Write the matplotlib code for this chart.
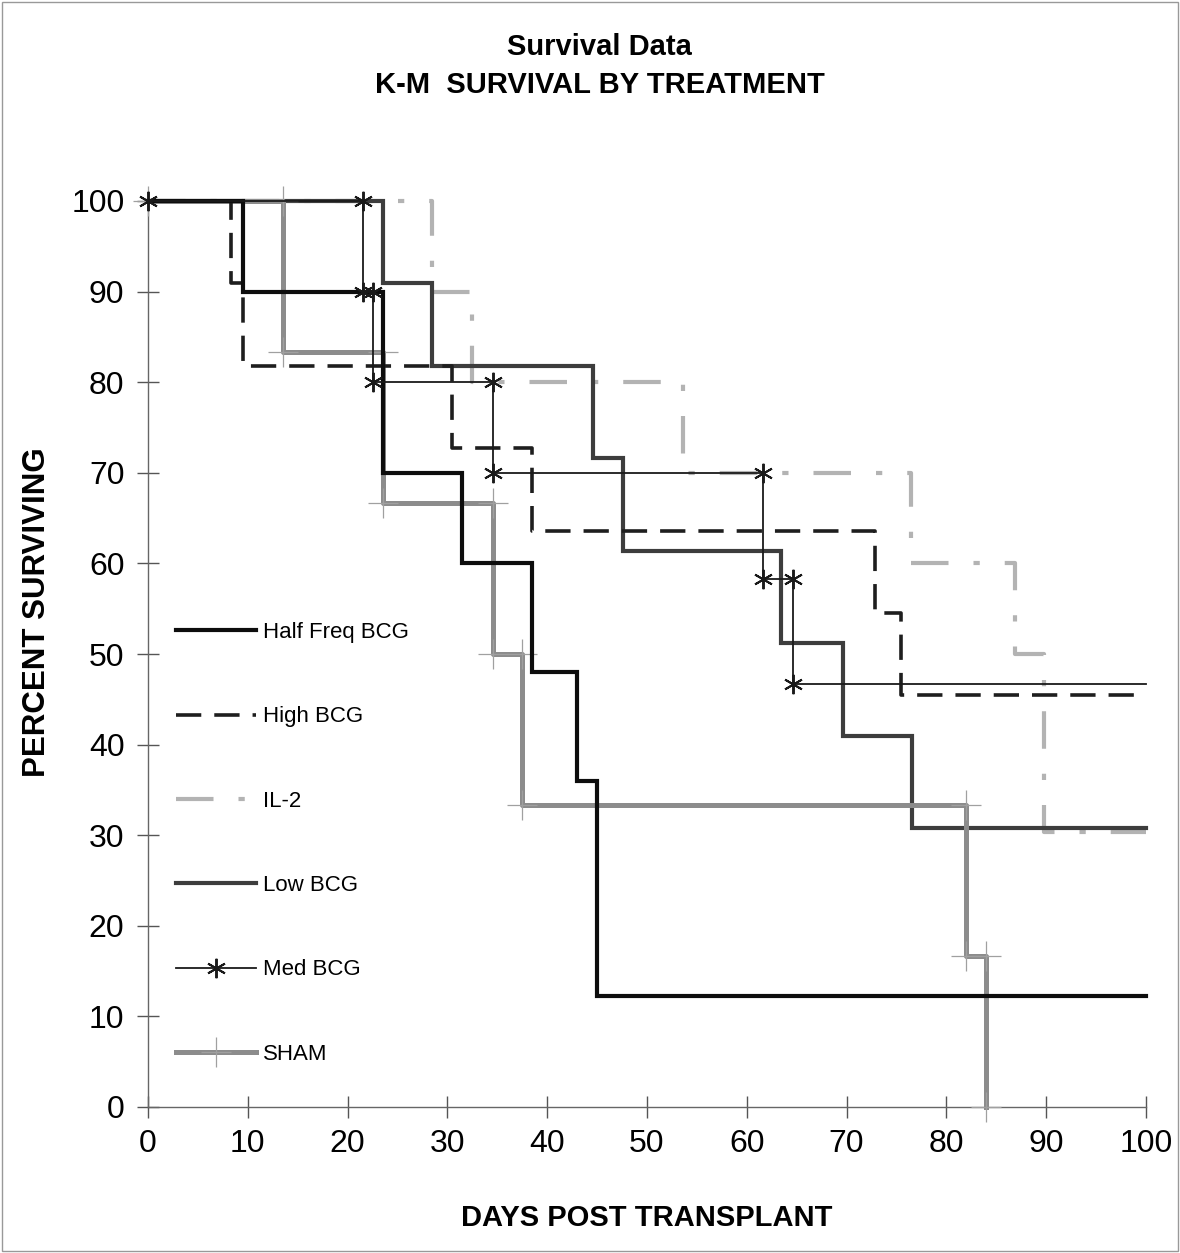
import matplotlib.pyplot as plt
from matplotlib.patches import Rectangle

# Kaplan-Meier estimates: event day -> percent surviving
half_freq_days = [0, 9.5, 23.5, 31.5, 38.5, 43, 45]
half_freq_pct = [100, 90, 70, 60, 48, 36, 12.3]

high_days = [0, 8.3, 9.5, 30.5, 38.5, 72.8, 75.5]
high_pct = [100, 90.9, 81.8, 72.7, 63.6, 54.5, 45.5]

il2_days = [0, 28.5, 32.5, 53.6, 76.5, 86.9, 89.8]
il2_pct = [100, 90, 80, 70, 60, 50, 30.3]

low_days = [0, 23.5, 28.5, 44.6, 47.6, 63.4, 69.6, 76.6]
low_pct = [100, 90.9, 81.8, 71.6, 61.4, 51.2, 41.0, 30.8]

med_days = [0, 21.5, 22.5, 34.6, 61.6, 64.6]
med_pct = [100, 90, 80, 70, 58.3, 46.7]

sham_days = [0, 13.5, 23.5, 34.6, 37.5, 82.0, 84.0]
sham_pct = [100, 83.3, 66.7, 50, 33.3, 16.7, 0]

x_ticks = list(range(0, 101, 10))
y_ticks = list(range(0, 101, 10))
end_day = 100

plt.rcParams['font.family'] = ['Liberation Sans', 'DejaVu Sans']


def step_points(days, pct, extend=True):
    """Turn event times into the corner points of a survival step curve."""
    xs, ys = [days[0]], [pct[0]]
    for i in range(1, len(days)):
        xs += [days[i], days[i]]
        ys += [pct[i - 1], pct[i]]
    if extend and pct[-1] > 0:
        xs.append(end_day)
        ys.append(pct[-1])
    return xs, ys


fig = plt.figure(figsize=(11.8, 12.53), dpi=100)
ax = fig.add_axes([148 / 1180, 146 / 1253, (1146 - 148) / 1180, (1107 - 201) / 1253])

xs, ys = step_points(half_freq_days, half_freq_pct)
ax.plot(xs, ys, color='#0d0d0d', lw=3.0, solid_joinstyle='miter', label='Half Freq BCG', clip_on=False, zorder=5)

xs, ys = step_points(high_days, high_pct)
ax.plot(xs, ys, color='#1e1e1e', lw=2.6, linestyle=(0, (7, 3.6)), label='High BCG', clip_on=False, zorder=4)

xs, ys = step_points(il2_days, il2_pct)
ax.plot(xs, ys, color='#b3b3b3', lw=3.0, linestyle=(0, (9, 6, 1.5, 6)), label='IL-2', clip_on=False, zorder=2)

xs, ys = step_points(low_days, low_pct)
ax.plot(xs, ys, color='#3d3d3d', lw=3.0, solid_joinstyle='miter', label='Low BCG', clip_on=False, zorder=3)

xs, ys = step_points(med_days, med_pct)
ax.plot(xs, ys, color='#1a1a1a', lw=1.3, marker=(6, 2, 0), markersize=14, markeredgewidth=1.4,
        markevery=list(range(len(xs) - 1)), label='Med BCG', clip_on=False, zorder=6)

xs, ys = step_points(sham_days, sham_pct)
ax.plot(xs, ys, color='#8c8c8c', lw=3.6, marker='+', markersize=22, markeredgewidth=0.9,
        markeredgecolor='#a0a0a0', label='SHAM', clip_on=False, zorder=3)

ax.set_xlim(0, 100)
ax.set_ylim(0, 100)
ax.set_xticks(x_ticks)
ax.set_yticks(y_ticks)
ax.tick_params(axis='both', direction='inout', length=16, width=1.0, color='#555555', labelsize=23)
ax.tick_params(axis='x', pad=8)
ax.tick_params(axis='y', pad=9)
for side in ['top', 'right']:
    ax.spines[side].set_visible(False)
for side in ['left', 'bottom']:
    ax.spines[side].set_color('#666666')
    ax.spines[side].set_linewidth(1.0)

ax.set_xlabel('DAYS POST TRANSPLANT', fontsize=21, fontweight='bold')
ax.xaxis.set_label_coords(0.5, -(1218 - 1107) / (1107 - 201), transform=ax.transAxes)
ax.set_ylabel('PERCENT SURVIVING', fontsize=22.5, fontweight='bold')
ax.yaxis.set_label_coords(-(148 - 37) / (1146 - 148), (1107 - 612) / (1107 - 201), transform=ax.transAxes)
ax.yaxis.label.set_va('center')
ax.xaxis.label.set_va('center')

fig.text(0.508, 1 - 47 / 1253, 'Survival Data', ha='center', va='center', fontsize=21, fontweight='bold')
fig.text(0.508, 1 - 85 / 1253, 'K-M  SURVIVAL BY TREATMENT', ha='center', va='center', fontsize=21,
         fontweight='bold')

leg = ax.legend(loc='upper left', bbox_to_anchor=(176 / 1180, 1 - 622 / 1253), bbox_transform=fig.transFigure,
                frameon=False, fontsize=16, handlelength=3.6, handletextpad=0.3, labelspacing=2.85,
                borderpad=0, borderaxespad=0, numpoints=1)

fig.add_artist(Rectangle((2 / 1180, 2 / 1253), 1176 / 1180, 1249 / 1253, transform=fig.transFigure,
                         fill=False, edgecolor='#999999', lw=1.0))

fig.savefig('out.png', dpi=100, facecolor='white')
